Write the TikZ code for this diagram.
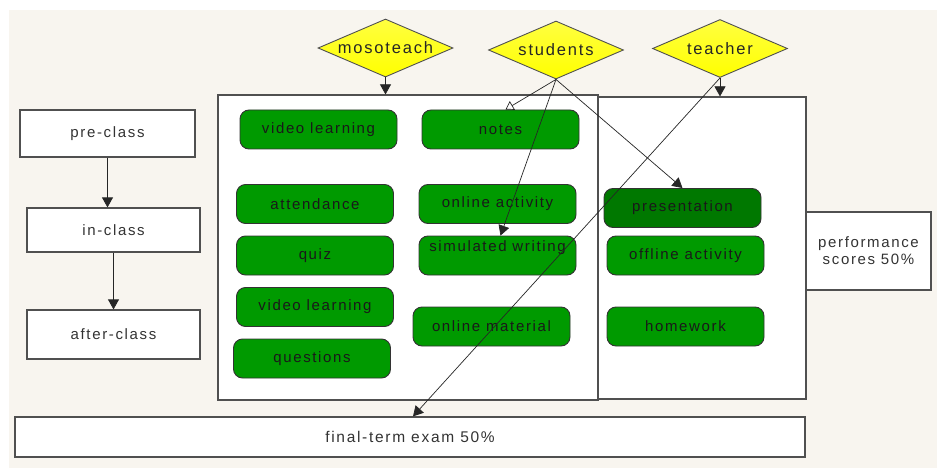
\documentclass[tikz,border=0pt]{standalone}
\usepackage{fontspec}
\setmainfont{Liberation Sans}[LetterSpace=11]
\usetikzlibrary{shapes.geometric,arrows.meta}
\definecolor{paper}{HTML}{F8F5EF}
\definecolor{actgreen}{HTML}{009A00}
\definecolor{presgreen}{HTML}{007800}
\definecolor{edge}{HTML}{505050}
\tikzset{
stage/.style={draw=edge, line width=1.2pt, fill=white, inner sep=0pt,
    font=\fontsize{15}{17}\selectfont, text=black!80},
activity/.style={draw=black!80, line width=0.9pt, fill=actgreen, rounded corners=9pt,
    minimum width=157pt, minimum height=39pt, inner sep=0pt,
    font=\fontsize{15}{17}\selectfont, text=black!90},
role/.style={draw=edge, line width=0.9pt, diamond, aspect=2.3, inner sep=0pt,
    minimum width=135pt, minimum height=58pt, top color=yellow!75!white, bottom color=yellow,
    font=\fontsize{16.5}{18}\selectfont, text=black!85},
flow/.style={-{Triangle[length=10pt,width=11pt]}, line width=0.7pt, black!85}
}

\begin{document}
\begin{tikzpicture}[x=1pt, y=-1pt]
	\useasboundingbox (0,0) rectangle (937,468);
	\fill[paper] (9,10) rectangle (937,468);
	\node[stage, minimum width=175pt, minimum height=47pt] (pre) at (107.5,133.5) {pre-class};
	\node[stage, minimum width=173pt, minimum height=44pt] (inclass) at (113.5,230) {in-class};
	\node[stage, minimum width=173pt, minimum height=49pt] (after) at (113.5,334.5) {after-class};
	\node[stage, minimum width=380pt, minimum height=305pt] (online) at (408,247.5) {};
	\node[stage, minimum width=208pt, minimum height=302pt] (offline) at (702,248) {};
	\node[stage, minimum width=125pt, minimum height=78pt, align=center] (perf) at (868.5,251)
		{performance\\scores 50\%};
	\node[stage, minimum width=790pt, minimum height=40pt, font=\fontsize{15.5}{17}\selectfont]
		(final) at (410,437) {final-term exam 50\%};
	\node[role] (moso) at (385.5,48) {mosoteach};
	\node[role] (students) at (556,50) {students};
	\node[role] (teacher) at (720,48.5) {teacher};
	\node[activity] (video) at (318.5,129.5) {video learning};
	\node[activity] (notes) at (500.5,129.5) {notes};
	\node[activity] (attend) at (315,204) {attendance};
	\node[activity] (onact) at (497.5,204) {online activity};
	\node[activity] (quiz) at (315,255.5) {quiz};
	\node[activity, text depth=18pt] (simwrite) at (497.5,255.5) {simulated writing};
	\node[activity] (review) at (315,307) {video learning};
	\node[activity] (onmat) at (491.5,326.5) {online material};
	\node[activity] (questions) at (312,358.5) {questions};
	\node[activity, fill=presgreen] (present) at (682.5,208) {presentation};
	\node[activity] (offact) at (685.5,255.5) {offline activity};
	\node[activity] (homework) at (685.5,326.5) {homework};
	\draw[flow] (pre.south) -- (pre.south |- inclass.north);
	\draw[flow] (inclass) -- (after);
	\draw[flow] (moso.south) -- (moso.south |- online.north);
	\draw[flow] (teacher.south) -- (teacher.south |- offline.north);
	\draw[flow, -{Triangle[open,length=8pt,width=10pt]}] (students.south) -- ([xshift=5pt]notes.north);
	\draw[flow] (students.south) -- ([xshift=3pt]simwrite.north);
	\draw[flow] (students.south) -- (present.north);
	\draw[flow] (teacher.south) -- ([xshift=3pt]final.north);
\end{tikzpicture}
\end{document}
